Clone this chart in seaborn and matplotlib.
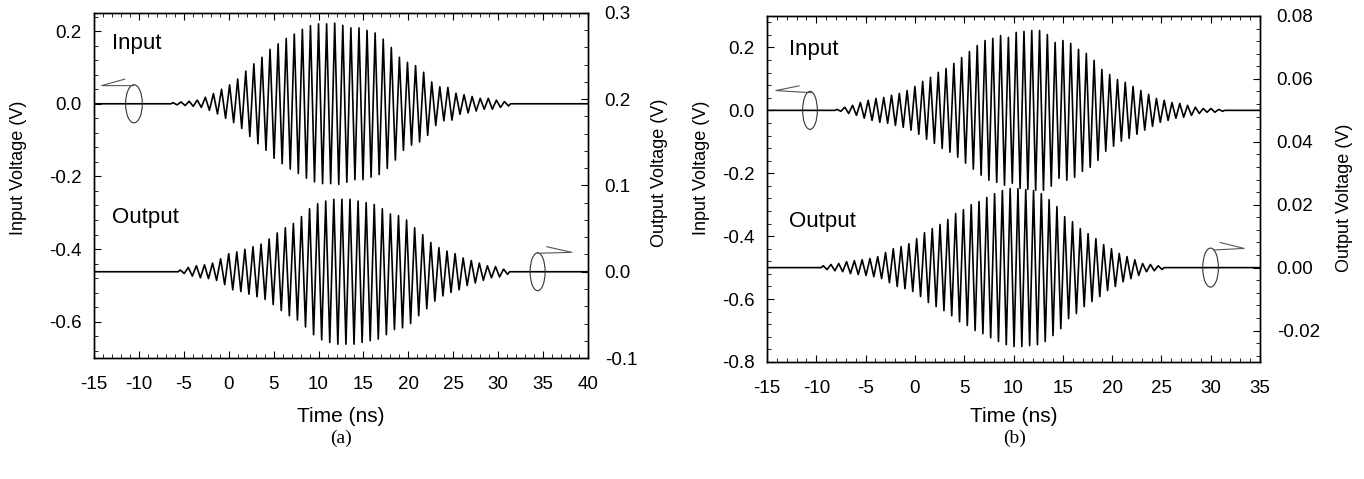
import numpy as np
import pandas as pd
import seaborn as sns
import matplotlib
matplotlib.use("Agg")
import matplotlib.pyplot as plt
from matplotlib.patches import Ellipse
from matplotlib.ticker import MultipleLocator, AutoMinorLocator, FormatStrFormatter

# peak amplitude (V) of each carrier cycle
# panel (a): input on the left axis, output on the right axis
in_a_start, in_a_period = -6.2, 0.9
in_a_amp = [0.003, 0.005, 0.007, 0.010, 0.018, 0.028, 0.040, 0.052, 0.068, 0.090,
            0.110, 0.128, 0.150, 0.165, 0.180, 0.192, 0.205, 0.215, 0.220, 0.220,
            0.222, 0.216, 0.209, 0.209, 0.202, 0.195, 0.178, 0.155, 0.128, 0.114,
            0.105, 0.087, 0.060, 0.047, 0.045, 0.029, 0.025, 0.020, 0.015, 0.015,
            0.010, 0.006]
out_a_start, out_a_period = -5.4, 0.9
out_a_amp = [0.002, 0.005, 0.007, 0.008, 0.010, 0.015, 0.021, 0.023, 0.026, 0.029,
             0.032, 0.038, 0.045, 0.051, 0.056, 0.064, 0.073, 0.079, 0.082, 0.084,
             0.084, 0.084, 0.082, 0.080, 0.078, 0.073, 0.067, 0.065, 0.060, 0.051,
             0.043, 0.034, 0.028, 0.024, 0.021, 0.016, 0.013, 0.010, 0.007, 0.006,
             0.003]

# panel (b)
in_b_start, in_b_period = -7.9, 0.79
in_b_amp = [0.003, 0.010, 0.016, 0.025, 0.032, 0.038, 0.041, 0.048, 0.054, 0.063,
            0.076, 0.092, 0.105, 0.121, 0.133, 0.149, 0.168, 0.187, 0.206, 0.222,
            0.229, 0.238, 0.232, 0.248, 0.251, 0.254, 0.254, 0.241, 0.216, 0.222,
            0.213, 0.194, 0.181, 0.159, 0.130, 0.114, 0.098, 0.089, 0.076, 0.063,
            0.051, 0.038, 0.032, 0.025, 0.022, 0.016, 0.010, 0.006, 0.006, 0.003]
out_b_start, out_b_period = -9.3, 0.79
out_b_amp = [0.0006, 0.0010, 0.0013, 0.0019, 0.0022, 0.0025, 0.0029, 0.0035, 0.0048, 0.0060,
             0.0067, 0.0076, 0.0092, 0.0111, 0.0124, 0.0137, 0.0153, 0.0172, 0.0184, 0.0200,
             0.0210, 0.0223, 0.0235, 0.0245, 0.0251, 0.0251, 0.0248, 0.0245, 0.0235, 0.0216,
             0.0194, 0.0162, 0.0146, 0.0124, 0.0108, 0.0092, 0.0073, 0.0060, 0.0045, 0.0035,
             0.0025, 0.0013, 0.0010, 0.0006]

span_a = [-15, 40]
span_b = [-15, 35]


def burst(start, period, amp, span):
    # alternate +peak / -peak each half cycle, flat baseline outside the burst
    amp = np.asarray(amp)
    t = start + period * np.arange(len(amp))
    tt = np.column_stack([t, t + period / 2]).ravel()
    vv = np.column_stack([amp, -amp]).ravel()
    tt = np.concatenate([[span[0], start - period / 4], tt, [tt[-1] + period / 4, span[1]]])
    vv = np.concatenate([[0, 0], vv, [0, 0]])
    return pd.DataFrame({"time": tt, "volt": vv})


sns.set_style("ticks")
plt.rcParams["font.family"] = ["Liberation Sans", "DejaVu Sans"]
plt.rcParams["axes.unicode_minus"] = False
plt.rcParams["axes.linewidth"] = 1.0
for key in ["text.color", "axes.labelcolor", "axes.edgecolor", "xtick.color", "ytick.color"]:
    plt.rcParams[key] = "black"

fig = plt.figure(figsize=(13.64, 4.79), dpi=100)

panels = [
    dict(rect=[0.0689, 0.2526, 0.3622, 0.7203], span=span_a,
         inp=burst(in_a_start, in_a_period, in_a_amp, span_a),
         out=burst(out_a_start, out_a_period, out_a_amp, span_a),
         ylim=(-0.7, 0.25), y2lim=(-0.1, 0.3), y2step=0.1, y2fmt="%.1f",
         in_text=(-13.0, 0.165), out_text=(-13.0, -0.314),
         in_ell=(-10.55, 0.0, 1.86, 0.105), in_arrow=[(-11.55, 0.068), (-14.14, 0.05), (-10.55, 0.05)],
         out_ell=(34.39, 0.0, 1.67, 0.044), out_arrow=[(35.4, 0.029), (38.2, 0.0225), (34.4, 0.0214)],
         caption="(a)", cap_x=0.25, ylab=(-0.136, 0.55), y2lab=(1.128, 0.536), xlab_y=-0.142),
    dict(rect=[0.5623, 0.2443, 0.3615, 0.7223], span=span_b,
         inp=burst(in_b_start, in_b_period, in_b_amp, span_b),
         out=burst(out_b_start, out_b_period, out_b_amp, span_b),
         ylim=(-0.8, 0.3), y2lim=(-0.03, 0.08), y2step=0.02, y2fmt="%.2f",
         in_text=(-12.77, 0.195), out_text=(-12.77, -0.352),
         in_ell=(-10.64, 0.0, 1.49, 0.121), in_arrow=[(-11.72, 0.078), (-14.09, 0.063), (-10.47, 0.056)],
         out_ell=(29.98, 0.0, 1.59, 0.0124), out_arrow=[(30.94, 0.008), (33.38, 0.0061), (30.26, 0.0056)],
         caption="(b)", cap_x=0.744, ylab=(-0.116, 0.56), y2lab=(1.155, 0.474), xlab_y=-0.130),
]

for p in panels:
    ax = fig.add_axes(p["rect"])
    ax2 = ax.twinx()

    sns.lineplot(data=p["inp"], x="time", y="volt", ax=ax, color="black",
                 lw=1.2, estimator=None, sort=False)
    sns.lineplot(data=p["out"], x="time", y="volt", ax=ax2, color="black",
                 lw=1.2, estimator=None, sort=False)

    ax.set_xlim(p["span"])
    ax.set_ylim(p["ylim"])
    ax2.set_ylim(p["y2lim"])

    ax.xaxis.set_major_locator(MultipleLocator(5))
    ax.xaxis.set_minor_locator(AutoMinorLocator(5))
    ax.yaxis.set_major_locator(MultipleLocator(0.2))
    ax.yaxis.set_minor_locator(AutoMinorLocator(5))
    ax.yaxis.set_major_formatter(FormatStrFormatter("%.1f"))
    ax2.yaxis.set_major_locator(MultipleLocator(p["y2step"]))
    ax2.yaxis.set_minor_locator(AutoMinorLocator(5))
    ax2.yaxis.set_major_formatter(FormatStrFormatter(p["y2fmt"]))

    ax.tick_params(axis="x", which="both", direction="in", top=True, bottom=True,
                   labelsize=13.5, pad=13)
    ax.tick_params(axis="y", which="both", direction="in", left=True, right=False,
                   labelsize=13.5, pad=9)
    ax2.tick_params(axis="y", which="both", direction="in", labelsize=13.5, pad=12)
    for a in (ax, ax2):
        a.tick_params(which="major", length=5, width=0.8)
        a.tick_params(which="minor", length=3, width=0.6)

    ax.set_xlabel("Time (ns)", fontsize=15)
    ax.set_ylabel("Input Voltage (V)", fontsize=13)
    ax2.set_ylabel("Output Voltage (V)", fontsize=13)
    ax.xaxis.set_label_coords(0.5, p["xlab_y"])
    ax.yaxis.set_label_coords(*p["ylab"])
    ax2.yaxis.set_label_coords(*p["y2lab"])

    ax.text(*p["in_text"], "Input", fontsize=16, va="center", ha="left")
    ax.text(*p["out_text"], "Output", fontsize=16, va="center", ha="left")

    # axis indicators: ellipse around the trace with an open arrow to its axis
    cx, cy, w, h = p["in_ell"]
    ax.add_patch(Ellipse((cx, cy), w, h, fill=False, lw=0.8, color="#333333", zorder=5))
    xs, ys = zip(*p["in_arrow"])
    ax.plot(xs, ys, color="#555555", lw=0.8, zorder=5)
    cx, cy, w, h = p["out_ell"]
    ax2.add_patch(Ellipse((cx, cy), w, h, fill=False, lw=0.8, color="#333333", zorder=5))
    xs, ys = zip(*p["out_arrow"])
    ax2.plot(xs, ys, color="#555555", lw=0.8, zorder=5)

    fig.text(p["cap_x"], 0.085, p["caption"], fontsize=14, ha="center", va="center",
             family=["Liberation Serif", "DejaVu Serif"])

fig.savefig("out.png", dpi=100)
